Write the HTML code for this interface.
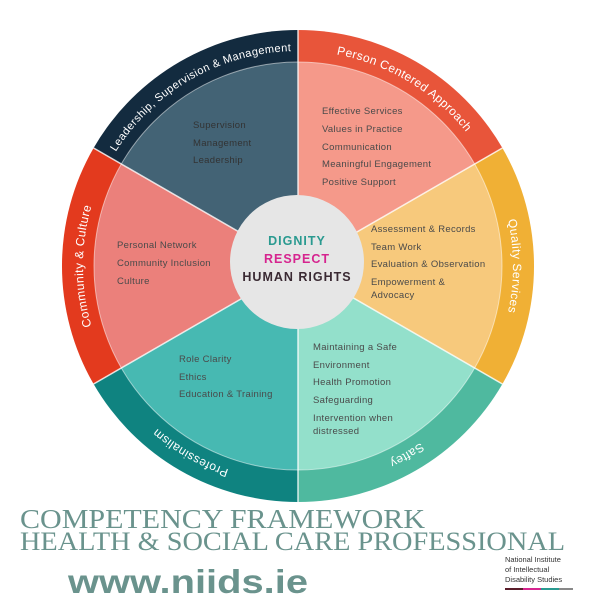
<!DOCTYPE html>
<html><head><meta charset="utf-8"><style>
html,body{margin:0;padding:0;background:#fff;width:600px;height:600px;overflow:hidden}
svg{display:block}
.l{font-family:"Liberation Sans",sans-serif;font-size:9.5px;fill:#4a4a4a;letter-spacing:0.3px}
.o{font-family:"Liberation Sans",sans-serif;font-size:12px;fill:#fff;letter-spacing:0.4px}
.c{font-family:"Liberation Sans",sans-serif;font-size:12.5px;font-weight:bold;letter-spacing:1px}
</style></head><body>
<svg width="600" height="600" viewBox="0 0 600 600">
<defs>
<path id="ring" d="M298,51 A215,215 0 1 1 297.99,51"/>
</defs>
<path d="M298,266 L298,30 A236,236 0 0 1 502.4,148 Z" fill="#e8553a"/>
<path d="M298,266 L502.4,148 A236,236 0 0 1 502.4,384 Z" fill="#f0b035"/>
<path d="M298,266 L502.4,384 A236,236 0 0 1 298,502 Z" fill="#4fb99f"/>
<path d="M298,266 L298,502 A236,236 0 0 1 93.6,384 Z" fill="#0f8380"/>
<path d="M298,266 L93.6,384 A236,236 0 0 1 93.6,148 Z" fill="#e33a1e"/>
<path d="M298,266 L93.6,148 A236,236 0 0 1 298,30 Z" fill="#132b3f"/>
<path d="M298,266 L298,62 A204,204 0 0 1 474.7,164 Z" fill="#f5998a"/>
<path d="M298,266 L474.7,164 A204,204 0 0 1 474.7,368 Z" fill="#f7c97c"/>
<path d="M298,266 L474.7,368 A204,204 0 0 1 298,470 Z" fill="#93e0cb"/>
<path d="M298,266 L298,470 A204,204 0 0 1 121.3,368 Z" fill="#47b9b2"/>
<path d="M298,266 L121.3,368 A204,204 0 0 1 121.3,164 Z" fill="#eb807b"/>
<path d="M298,266 L121.3,164 A204,204 0 0 1 298,62 Z" fill="#436375"/>
<circle cx="298" cy="266" r="204" fill="none" stroke="#fff" stroke-opacity="0.5" stroke-width="1"/>
<g stroke="#fff" stroke-width="1.5" stroke-opacity="0.8">
<line x1="298" y1="30" x2="298" y2="502"/>
<line x1="502.4" y1="148" x2="93.6" y2="384"/>
<line x1="502.4" y1="384" x2="93.6" y2="148"/>
</g>
<circle cx="297" cy="262" r="67" fill="#e6e6e6"/>
<text class="c" x="297" y="245" text-anchor="middle" fill="#2a9a90">DIGNITY</text>
<text class="c" x="297" y="263" text-anchor="middle" fill="#d6248f">RESPECT</text>
<text class="c" x="297" y="281" text-anchor="middle" fill="#3a2a33">HUMAN RIGHTS</text>
<text class="o" style="font-size:11px"><textPath href="#ring" startOffset="91.7%" text-anchor="middle">Leadership, Supervision &amp; Management</textPath></text>
<text class="o"><textPath href="#ring" startOffset="8.6%" text-anchor="middle">Person Centered Approach</textPath></text>
<text class="o"><textPath href="#ring" startOffset="25%" text-anchor="middle">Quality Services</textPath></text>
<text class="o"><textPath href="#ring" startOffset="41.7%" text-anchor="middle">Saftey</textPath></text>
<text class="o"><textPath href="#ring" startOffset="58.3%" text-anchor="middle">Professinalism</textPath></text>
<text class="o"><textPath href="#ring" startOffset="75%" text-anchor="middle">Community &amp; Culture</textPath></text>
<g class="l">
<text x="193" y="128" fill="#333">Supervision</text>
<text x="193" y="146" fill="#333">Management</text>
<text x="193" y="163" fill="#333">Leadership</text>
<text x="322" y="114">Effective Services</text>
<text x="322" y="132">Values in Practice</text>
<text x="322" y="150">Communication</text>
<text x="322" y="167">Meaningful Engagement</text>
<text x="322" y="185">Positive Support</text>
<text x="371" y="232">Assessment &amp; Records</text>
<text x="371" y="250">Team Work</text>
<text x="371" y="267">Evaluation &amp; Observation</text>
<text x="371" y="285">Empowerment &amp;</text>
<text x="371" y="298">Advocacy</text>
<text x="117" y="248">Personal Network</text>
<text x="117" y="266">Community Inclusion</text>
<text x="117" y="284">Culture</text>
<text x="179" y="362">Role Clarity</text>
<text x="179" y="380">Ethics</text>
<text x="179" y="397">Education &amp; Training</text>
<text x="313" y="350">Maintaining a Safe</text>
<text x="313" y="368">Environment</text>
<text x="313" y="385">Health Promotion</text>
<text x="313" y="403">Safeguarding</text>
<text x="313" y="421">Intervention when</text>
<text x="313" y="434">distressed</text>
</g>
<text x="20" y="528" font-family="Liberation Serif,serif" font-size="27" fill="#6a938d" textLength="405" lengthAdjust="spacingAndGlyphs">COMPETENCY FRAMEWORK</text>
<text x="20" y="550" font-family="Liberation Serif,serif" font-size="26" fill="#6a938d" textLength="545" lengthAdjust="spacingAndGlyphs">HEALTH &amp; SOCIAL CARE PROFESSIONAL</text>
<text x="68" y="593" font-family="Liberation Sans,sans-serif" font-size="33" font-weight="bold" fill="#6a938d" textLength="240" lengthAdjust="spacingAndGlyphs">www.niids.ie</text>
<g font-family="Liberation Sans,sans-serif" font-size="7.5" fill="#333">
<text x="505" y="562">National Institute</text>
<text x="505" y="572">of Intellectual</text>
<text x="505" y="582">Disability Studies</text>
</g>
<rect x="505" y="588" width="18" height="2" fill="#5a1d2a"/>
<rect x="523" y="588" width="18" height="2" fill="#d6248f"/>
<rect x="541" y="588" width="18" height="2" fill="#2a9a90"/>
<rect x="559" y="588" width="14" height="2" fill="#888"/>
</svg>
</body></html>
